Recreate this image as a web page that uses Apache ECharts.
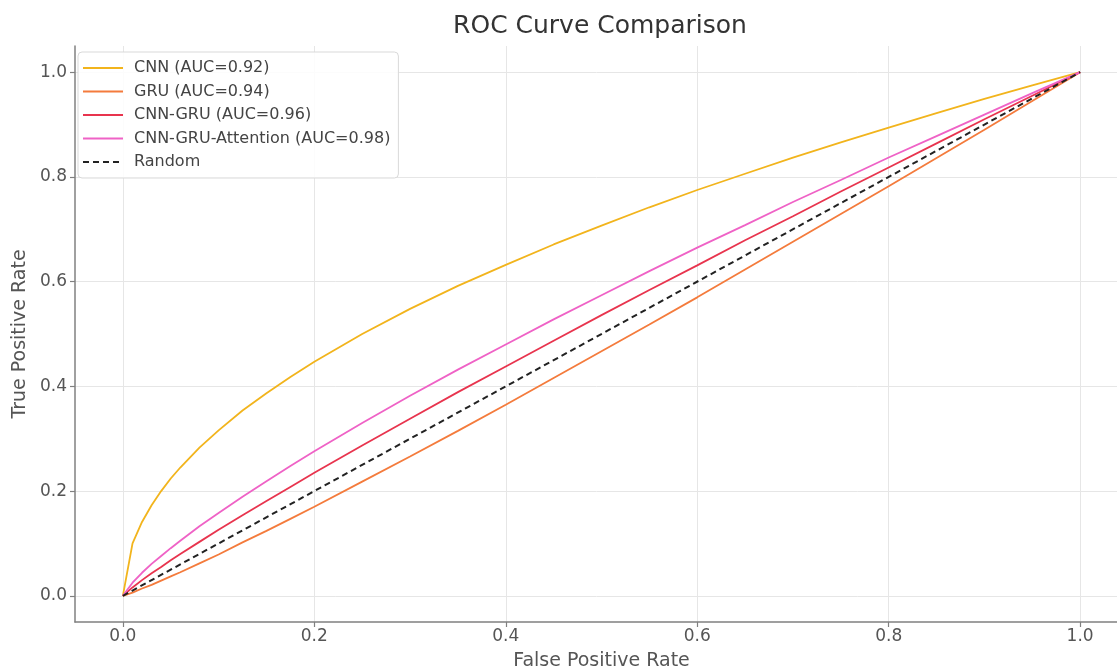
<!DOCTYPE html>
<html>
<head>
<meta charset="utf-8">
<script src="https://cdn.jsdelivr.net/npm/echarts@6/dist/echarts.min.js"></script>
<style>
html,body{margin:0;padding:0;background:#fff;}
#chart{width:1117px;height:669px;}
</style>
</head>
<body>
<div id="chart"></div>
<script>
// False positive rate sample points
const fpr = [0, 0.0101, 0.02, 0.03, 0.04, 0.05, 0.06, 0.08, 0.1, 0.125, 0.15, 0.175, 0.2, 0.25, 0.3, 0.35, 0.4, 0.45, 0.5, 0.55, 0.6, 0.65, 0.7, 0.75, 0.8, 0.85, 0.9, 0.95, 1.0];
// True positive rates
const tprCNN = [0, 0.100, 0.141, 0.173, 0.200, 0.224, 0.245, 0.283, 0.316, 0.354, 0.387, 0.418, 0.447, 0.500, 0.548, 0.592, 0.632, 0.671, 0.707, 0.742, 0.775, 0.806, 0.837, 0.866, 0.894, 0.922, 0.949, 0.975, 1.0];
const tprGRU = [0, 0.006, 0.014, 0.021, 0.029, 0.037, 0.045, 0.062, 0.079, 0.102, 0.124, 0.147, 0.170, 0.218, 0.266, 0.315, 0.365, 0.416, 0.467, 0.518, 0.570, 0.623, 0.676, 0.729, 0.782, 0.836, 0.890, 0.945, 1.0];
const tprCG  = [0, 0.016, 0.030, 0.043, 0.055, 0.068, 0.080, 0.103, 0.126, 0.154, 0.181, 0.208, 0.235, 0.287, 0.338, 0.389, 0.438, 0.487, 0.536, 0.584, 0.631, 0.679, 0.725, 0.772, 0.818, 0.864, 0.910, 0.955, 1.0];
const tprCGA = [0, 0.025, 0.044, 0.061, 0.076, 0.091, 0.105, 0.133, 0.158, 0.189, 0.219, 0.248, 0.276, 0.330, 0.382, 0.432, 0.480, 0.528, 0.574, 0.620, 0.665, 0.708, 0.752, 0.794, 0.837, 0.878, 0.919, 0.960, 1.0];
const randomX = [0, 1];
const randomY = [0, 1];
const seriesNames = ['CNN (AUC=0.92)', 'GRU (AUC=0.94)', 'CNN-GRU (AUC=0.96)', 'CNN-GRU-Attention (AUC=0.98)', 'Random'];
const tickValues = [0, 0.2, 0.4, 0.6, 0.8, 1.0];
const titleText = 'ROC Curve Comparison';
const xName = 'False Positive Rate';
const yName = 'True Positive Rate';

const pairs = (xs, ys) => xs.map((x, i) => [x, ys[i]]);
const FONT = 'DejaVu Sans';
const colors = ['#f2b41c', '#f47b3c', '#e8344e', '#ef62c6', '#222222'];

function lineSeries(name, data, color, dashed) {
  return {
    name: name, type: 'line', data: data, showSymbol: false, symbol: 'none',
    smooth: false,
    lineStyle: { color: color, width: dashed ? 2 : 1.8, type: dashed ? [6, 4] : 'solid' },
    itemStyle: { color: color },
    emphasis: { disabled: true }, animation: false
  };
}

const axisCommon = {
  type: 'value', min: -0.05, max: 1.05,
  axisLine: { show: true, onZero: false, lineStyle: { color: '#808080', width: 1.5 } },
  axisTick: { show: true, inside: false, length: 5, customValues: tickValues, lineStyle: { color: '#808080', width: 1.2 } },
  axisLabel: { customValues: tickValues, color: '#555', fontSize: 17, fontFamily: FONT, formatter: v => v.toFixed(1) },
  splitLine: { show: true, lineStyle: { color: '#e6e6e6', width: 1 } },
  nameLocation: 'middle',
  nameTextStyle: { color: '#555', fontSize: 19, fontFamily: FONT }
};

const chart = echarts.init(document.getElementById('chart'), null, { renderer: 'canvas' });
chart.setOption({
  animation: false,
  backgroundColor: '#fff',
  title: {
    text: titleText, left: 600, textAlign: 'center', top: 14, padding: 0,
    textStyle: { fontSize: 25, fontWeight: 'normal', color: '#333', fontFamily: FONT }
  },
  legend: {
    orient: 'vertical', left: 78, top: 52,
    data: seriesNames,
    itemWidth: 40, itemHeight: 14, itemGap: 7.5,
    padding: [8, 8, 8, 4],
    backgroundColor: 'rgba(255,255,255,0.85)',
    borderColor: '#d9d9d9', borderWidth: 1, borderRadius: 4,
    itemStyle: { opacity: 0, borderWidth: 0 },
    textStyle: { color: '#444', fontSize: 16, lineHeight: 16, fontFamily: FONT, padding: [0, 0, 0, 6] }
  },
  grid: { left: 75, right: -11, top: 46, bottom: 47, containLabel: false, outerBoundsMode: 'none' },
  xAxis: Object.assign({}, axisCommon, {
    name: xName, nameGap: 30,
    axisLabel: Object.assign({}, axisCommon.axisLabel, { margin: 6 })
  }),
  yAxis: Object.assign({}, axisCommon, {
    name: yName, nameGap: 40,
    axisLabel: Object.assign({}, axisCommon.axisLabel, { margin: 8 })
  }),
  series: [
    lineSeries(seriesNames[0], pairs(fpr, tprCNN), colors[0], false),
    lineSeries(seriesNames[1], pairs(fpr, tprGRU), colors[1], false),
    lineSeries(seriesNames[2], pairs(fpr, tprCG), colors[2], false),
    lineSeries(seriesNames[3], pairs(fpr, tprCGA), colors[3], false),
    lineSeries(seriesNames[4], pairs(randomX, randomY), colors[4], true)
  ]
});
</script>
</body>
</html>
